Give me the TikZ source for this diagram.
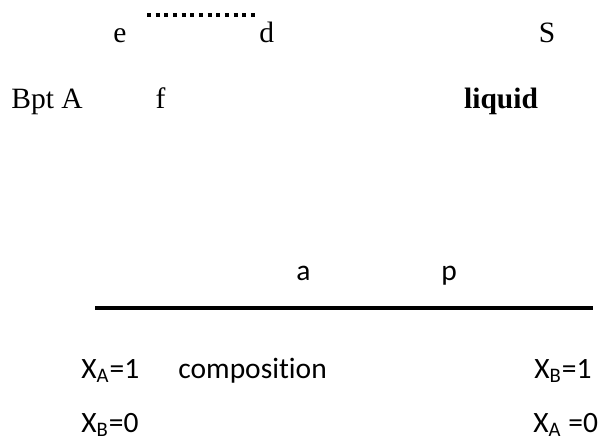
\documentclass[tikz,border=0pt]{standalone}
\usepackage{fontspec}
\setmainfont{Liberation Serif}
\newfontfamily\calibri[Ligatures=NoCommon]{Carlito}
\usetikzlibrary{positioning}

\begin{document}
\begin{tikzpicture}[x=0.5pt, y=-0.5pt,
    serif/.style={inner sep=0pt, font=\fontsize{14.75}{17}\selectfont},
    sanstext/.style={inner sep=0pt, font=\fontsize{14.75}{17}\selectfont\calibri},
    dotline/.style={line width=2pt, dash pattern=on 2pt off 2.33pt},
    axisline/.style={line width=2pt}
]
\useasboundingbox (0,0) rectangle (605,440);

% top rows
\node[serif, anchor=base west] (e) at (113,42) {e};
\node[serif, base right=66pt of e] (d) {d};
\node[serif, base right=132pt of d] (S) {S};
\coordinate (dotL) at (147,15);
\coordinate (dotR) at (255,15);
\draw[dotline] (dotL) -- (dotR);

\node[serif, anchor=base west] (bpt) at (11,108) {Bpt A};
\node[serif, base right=36pt of bpt] (f) {f};
\node[serif, font=\fontsize{14.75}{17}\selectfont\bfseries,
  base right=149pt of f] (liq) {liquid};

% composition axis
\node[sanstext, anchor=base west] (a) at (296,280) {a};
\node[sanstext, base right=65pt of a] (p) {p};
\coordinate (axL) at (95,308);
\coordinate (axR) at (593,308);
\draw[axisline] (axL) -- (axR);

\node[sanstext, anchor=base west] (xa1) at (81,378) {X\textsubscript{A}=1};
\node[sanstext, anchor=base west] (comp) at (178,378) {composition};
\node[sanstext, anchor=base west] (xb1) at (534,378) {X\textsubscript{B}=1};
\node[sanstext, anchor=base west] (xb0) at (81,432) {X\textsubscript{B}=0};
\node[sanstext, anchor=base west] (xa0) at (533,432) {X\textsubscript{A} =0};
\end{tikzpicture}
\end{document}
